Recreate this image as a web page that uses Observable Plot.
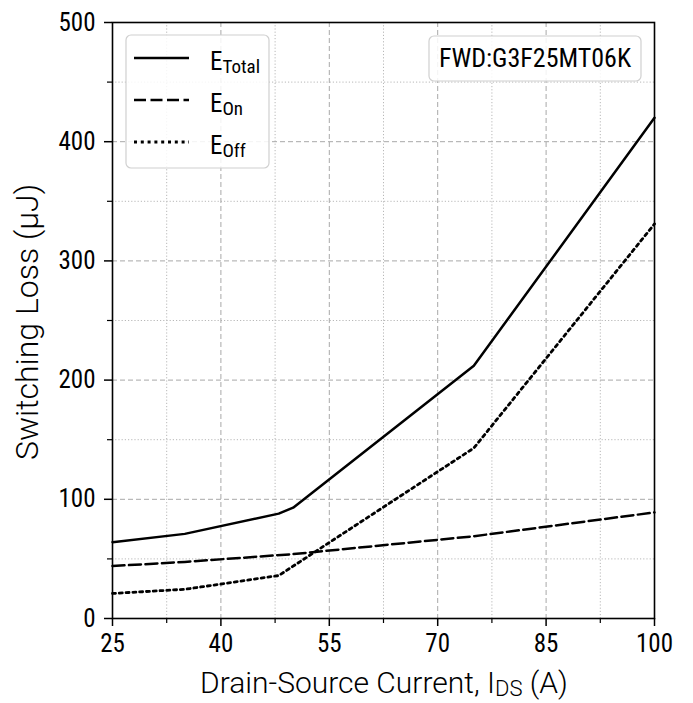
<!DOCTYPE html>
<html>
<head>
<meta charset="utf-8">
<script src="https://cdn.jsdelivr.net/npm/d3@7"></script>
<script src="https://cdn.jsdelivr.net/npm/@observablehq/plot@0.6"></script>
<style>
  html, body { margin: 0; padding: 0; background: #fff; }
  #chart { width: 693px; height: 703px; }
</style>
</head>
<body>
<div id="chart"></div>
<script>
// ---- Data ----
const currentTotal = [25, 35, 48, 50, 75, 100];
const eTotal       = [64, 71, 88, 93, 212, 420];
const currentOn    = [25, 35, 50, 75, 100];
const eOn          = [44, 47.5, 54, 69, 89];
const currentOff   = [25, 35, 48, 75, 100];
const eOff         = [21, 24.5, 36, 143, 331];

const xTicks = [25, 40, 55, 70, 85, 100];
const xMinor = [32.5, 47.5, 62.5, 77.5, 92.5];
const yTicks = [0, 100, 200, 300, 400, 500];
const yMinor = [50, 150, 250, 350, 450];

const seriesNames = ["Total", "On", "Off"];
const deviceLabel = "FWD:G3F25MT06K";
const xLabel = ["Drain-Source Current, I", "DS", " (A)"];
const yLabel = "Switching Loss (μJ)";

const toRows = (xs, ys) => xs.map((x, i) => ({x, y: ys[i]}));
const totalRows = toRows(currentTotal, eTotal);
const onRows = toRows(currentOn, eOn);
const offRows = toRows(currentOff, eOff);

const condensed = "'Roboto Condensed', 'Liberation Sans Narrow', 'DejaVu Sans Condensed', Roboto, sans-serif";
const regular = "Roboto, 'Noto Sans', sans-serif";

const dashes = {Total: null, On: "12,4.5", Off: "3,3.8"};

const svg = Plot.plot({
  width: 693,
  height: 703,
  marginLeft: 112,
  marginRight: 39,
  marginTop: 22,
  marginBottom: 85,
  style: {fontFamily: condensed, fontSize: "25px", color: "#000", background: "#fff", fontStretch: "condensed", fontWeight: 400},
  x: {domain: [25, 100]},
  y: {domain: [0, 500]},
  marks: [
    Plot.gridX(xMinor, {stroke: "#b8b8b8", strokeOpacity: 1, strokeDasharray: "1.2,2", strokeWidth: 1}),
    Plot.gridY(yMinor, {stroke: "#b8b8b8", strokeOpacity: 1, strokeDasharray: "1.2,2", strokeWidth: 1}),
    Plot.gridX(xTicks, {stroke: "#a8a8a8", strokeOpacity: 1, strokeDasharray: "5,3", strokeWidth: 1}),
    Plot.gridY(yTicks, {stroke: "#a8a8a8", strokeOpacity: 1, strokeDasharray: "5,3", strokeWidth: 1}),
    Plot.axisX(xMinor, {tickSize: 5, text: null, label: null, strokeWidth: 1.2}),
    Plot.axisY(yMinor, {tickSize: 5, text: null, label: null, strokeWidth: 1.2}),
    Plot.axisX(xTicks, {tickSize: 8, tickPadding: 8, label: null, strokeWidth: 1.5, fontSize: 25}),
    Plot.axisY(yTicks, {tickSize: 8, tickPadding: 9, label: null, strokeWidth: 1.5, fontSize: 25}),
    Plot.line(totalRows, {x: "x", y: "y", stroke: "#000", strokeWidth: 2.5}),
    Plot.line(onRows, {x: "x", y: "y", stroke: "#000", strokeWidth: 2.5, strokeDasharray: dashes.On}),
    Plot.line(offRows, {x: "x", y: "y", stroke: "#000", strokeWidth: 2.8, strokeDasharray: dashes.Off}),
    Plot.frame({stroke: "#000", strokeWidth: 1.6})
  ]
});

const s = d3.select(svg);

// Legend box
const lg = s.append("g").attr("text-anchor", "start");
lg.append("rect").attr("x", 126).attr("y", 35).attr("width", 143).attr("height", 133)
  .attr("rx", 5).attr("fill", "#fff").attr("fill-opacity", 0.85).attr("stroke", "#d0d0d0").attr("stroke-width", 1.2);
seriesNames.forEach((name, i) => {
  const yy = 58 + i * 42;
  const ln = lg.append("line").attr("x1", 134).attr("x2", 189).attr("y1", yy).attr("y2", yy)
    .attr("stroke", "#000").attr("stroke-width", name === "Off" ? 2.8 : 2.5);
  if (dashes[name]) ln.attr("stroke-dasharray", dashes[name]);
  const t = lg.append("text").attr("x", 210).attr("y", yy + 12).attr("text-anchor", "start")
    .attr("font-family", condensed).attr("font-stretch", "condensed").attr("font-weight", 400)
    .attr("font-size", 25).attr("fill", "#000");
  t.append("tspan").text("E");
  t.append("tspan").attr("dy", 3).attr("font-size", 19).text(name);
});

// Device label box
const db = s.append("g");
db.append("rect").attr("x", 429).attr("y", 36).attr("width", 212).attr("height", 45)
  .attr("rx", 5).attr("fill", "#fff").attr("fill-opacity", 0.85).attr("stroke", "#d0d0d0").attr("stroke-width", 1.2);
db.append("text").attr("x", 535).attr("y", 67).attr("text-anchor", "middle")
  .attr("font-family", condensed).attr("font-stretch", "condensed").attr("font-weight", 400)
  .attr("font-size", 26).attr("fill", "#000")
  .text(deviceLabel);

// Axis labels
const xl = s.append("text").attr("x", 384).attr("y", 693).attr("text-anchor", "middle")
  .attr("font-family", regular).attr("font-stretch", "normal").attr("font-size", 30)
  .attr("font-weight", 300).attr("fill", "#000");
xl.append("tspan").text(xLabel[0]);
xl.append("tspan").attr("dy", 3).attr("font-size", 22).text(xLabel[1]);
xl.append("tspan").attr("dy", -3).text(xLabel[2]);

s.append("text").attr("transform", "translate(38,322) rotate(-90)").attr("text-anchor", "middle")
  .attr("font-family", regular).attr("font-stretch", "normal").attr("font-size", 32)
  .attr("font-weight", 300).attr("fill", "#000")
  .text(yLabel);

document.getElementById("chart").appendChild(svg);
</script>
</body>
</html>
